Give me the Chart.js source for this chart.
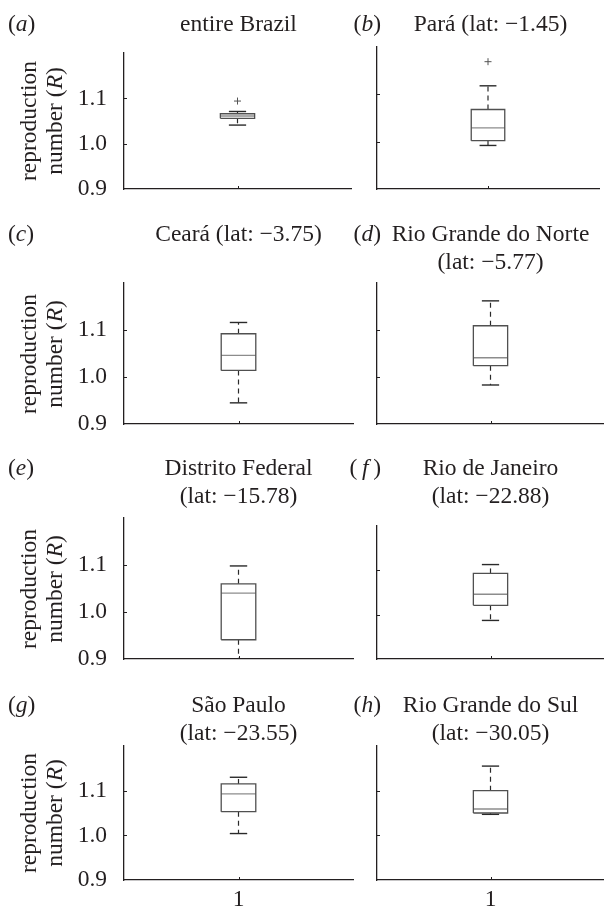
<!DOCTYPE html>
<html><head><meta charset="utf-8">
<script src="https://cdn.jsdelivr.net/npm/chart.js@4.4.1/dist/chart.umd.min.js"></script>
<style>
html,body{margin:0;padding:0;background:#fff;}
body{width:604px;height:906px;position:relative;overflow:hidden;font-family:'Liberation Serif','Times New Roman',serif;color:#231f20;}
canvas{position:absolute;}
.t{position:absolute;font-size:23.5px;line-height:28px;white-space:nowrap;}
.c{text-align:center;width:320px;}
.ylab{position:absolute;font-size:23.5px;line-height:26px;width:220px;height:52px;text-align:center;white-space:nowrap;transform:rotate(-90deg);transform-origin:50% 50%;}
</style></head><body>
<script>
// ---- data ----
const panelLetters = ['a','b','c','d','e','f','g','h'];
const panelTitles = [
  ['entire Brazil'],
  ['Pará (lat: −1.45)'],
  ['Ceará (lat: −3.75)'],
  ['Rio Grande do Norte','(lat: −5.77)'],
  ['Distrito Federal','(lat: −15.78)'],
  ['Rio de Janeiro','(lat: −22.88)'],
  ['São Paulo','(lat: −23.55)'],
  ['Rio Grande do Sul','(lat: −30.05)']
];
const xCategories = [1];
const yTicks = [0.9, 1.0, 1.1];
const lowerWhisker = [1.041, 0.992, 0.945, 0.983, 0.880, 0.987, 1.004, 1.047];
const q1           = [1.056, 1.002, 1.014, 1.024, 0.941, 1.021, 1.053, 1.050];
const median       = [1.061, 1.029, 1.046, 1.041, 1.040, 1.046, 1.093, 1.059];
const q3           = [1.066, 1.068, 1.092, 1.109, 1.060, 1.093, 1.115, 1.100];
const upperWhisker = [1.071, 1.118, 1.116, 1.162, 1.098, 1.113, 1.130, 1.155];
const outliers     = [[1.094], [1.169], [], [], [], [], [], []];

// ---- layout (positions only) ----
const plotAreas = [
  {l:124, r:353, t:53,  b:189},
  {l:377, r:604, t:47,  b:189},
  {l:124, r:353, t:283, b:424},
  {l:377, r:604, t:283, b:424},
  {l:124, r:353, t:518, b:659},
  {l:377, r:604, t:526, b:659},
  {l:124, r:353, t:746, b:880},
  {l:377, r:604, t:746, b:880}
];
const titleBaselines = [31, 31, 240.5, 240.5, 475, 475, 711.7, 711.7];
const BOX_HALF = 0.0755, CAP_HALF = 0.038;
const INK = '#231f20';
const FONT = {family:"'Liberation Serif','Times New Roman',serif", size:23.5};

const innerTicks = {
  id:'innerTicks',
  afterDatasetsDraw(chart){
    const {ctx, chartArea:a, scales:{x, y}} = chart;
    ctx.save();
    ctx.strokeStyle = INK; ctx.lineWidth = 1;
    ctx.beginPath();
    yTicks.forEach(v => { if (v > y.min) { const p = Math.round(y.getPixelForValue(v)) + 0.5; ctx.moveTo(a.left, p); ctx.lineTo(a.left + 3, p); } });
    xCategories.forEach(v => { const p = Math.round(x.getPixelForValue(v)) + 0.5; ctx.moveTo(p, a.bottom); ctx.lineTo(p, a.bottom - 3); });
    ctx.stroke();
    ctx.restore();
  }
};

function seg(points, color, width, dash){
  return {data: points, showLine: true, borderColor: color, backgroundColor: color,
          borderWidth: width, borderDash: dash || [], pointRadius: 0, tension: 0, fill: false};
}

panelLetters.forEach((letter, i) => {
  const pa = plotAreas[i];
  const isLeft = i % 2 === 0;
  const isBottom = i >= 6;
  const TOP = 36;
  const bpad = 36;
  const cLeft = isLeft ? 0 : 360;
  const rpad = isLeft ? 3 : 0;
  const cw = pa.r + rpad - cLeft;
  const ch = (pa.b - pa.t) + TOP + bpad;
  const cv = document.createElement('canvas');
  cv.width = cw; cv.height = ch;
  cv.style.left = cLeft + 'px'; cv.style.top = (pa.t - TOP) + 'px';
  cv.style.width = cw + 'px'; cv.style.height = ch + 'px';
  document.body.appendChild(cv);

  const c = xCategories[0];
  const datasets = [
    seg([{x:c-BOX_HALF,y:q1[i]},{x:c+BOX_HALF,y:q1[i]},{x:c+BOX_HALF,y:q3[i]},{x:c-BOX_HALF,y:q3[i]},{x:c-BOX_HALF,y:q1[i]}], '#505050', 1.3),
    seg([{x:c-BOX_HALF,y:median[i]},{x:c+BOX_HALF,y:median[i]}], '#8c8c8c', 1.3),
    seg([{x:c,y:q3[i]},{x:c,y:upperWhisker[i]}], '#2a2a2a', 1.2, [5,4]),
    seg([{x:c,y:q1[i]},{x:c,y:lowerWhisker[i]}], '#2a2a2a', 1.2, [5,4]),
    seg([{x:c-CAP_HALF,y:upperWhisker[i]},{x:c+CAP_HALF,y:upperWhisker[i]}], '#2a2a2a', 1.4),
    seg([{x:c-CAP_HALF,y:lowerWhisker[i]},{x:c+CAP_HALF,y:lowerWhisker[i]}], '#2a2a2a', 1.4),
    {data: outliers[i].map(v => ({x:c, y:v})), showLine:false, pointStyle:'cross', pointRadius:3.5,
     borderColor:'#555', borderWidth:1, backgroundColor:'#555'}
  ];

  new Chart(cv, {
    type: 'scatter',
    data: {datasets},
    options: {
      responsive: false, animation: false, events: [],
      layout: {padding: {top: TOP, right: rpad, left: 0, bottom: 0}},
      plugins: {legend: {display:false}, tooltip: {enabled:false}, title: {display:false}},
      scales: {
        x: {
          type:'linear', min:0.5, max:1.5,
          afterBuildTicks: s => { s.ticks = xCategories.map(v => ({value:v})); },
          afterFit: s => { s.height = bpad; },
          grid: {display:false, drawTicks:false},
          border: {display:true, color:INK, width:1.3},
          ticks: {display:isBottom, padding:6, color:INK, font:FONT, callback: v => String(v)}
        },
        y: {
          type:'linear', min:0.9, max:1.2,
          afterBuildTicks: s => { s.ticks = yTicks.map(v => ({value:v})); },
          afterFit: s => { s.width = pa.l - cLeft; },
          grid: {display:false, drawTicks:false},
          border: {display:true, color:INK, width:1.3},
          ticks: {display:isLeft, padding:17, color:INK, font:FONT, callback: v => Number(v).toFixed(1)}
        }
      }
    },
    plugins: [innerTicks]
  });

  // panel letter
  const lab = document.createElement('div');
  lab.className = 't';
  lab.innerHTML = letter === 'f' ? '(&thinsp;<i>f</i>&thinsp;)' : '(<i>' + letter + '</i>)';
  lab.style.top = (titleBaselines[i] - 21.8) + 'px';
  if (isLeft) lab.style.left = '8px'; else lab.style.right = (604 - 381) + 'px';
  document.body.appendChild(lab);

  // title lines
  const cx = (pa.l + pa.r) / 2;
  panelTitles[i].forEach((line, k) => {
    const d = document.createElement('div');
    d.className = 't c';
    d.textContent = line;
    d.style.left = (cx - 160) + 'px';
    d.style.top = (titleBaselines[i] + 28 * k - 21.8) + 'px';
    document.body.appendChild(d);
  });

  // y-axis title for left panels
  if (isLeft) {
    const y = document.createElement('div');
    y.className = 'ylab';
    y.innerHTML = 'reproduction<br>number (<i>R</i>)';
    const cy = (pa.t + pa.b) / 2;
    y.style.left = (41 - 110) + 'px';
    y.style.top = (cy - 26) + 'px';
    document.body.appendChild(y);
  }
});
</script>
</body></html>
